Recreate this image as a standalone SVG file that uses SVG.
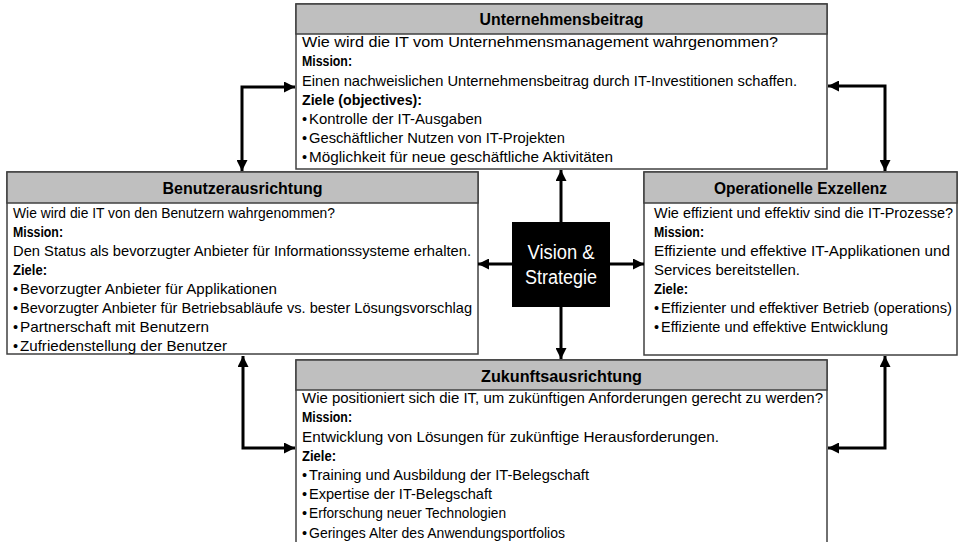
<svg xmlns="http://www.w3.org/2000/svg" width="959" height="542" viewBox="0 0 959 542">
<defs>
<style>
.box{fill:#ffffff;stroke:#404040;stroke-width:1.5}
.hdr{fill:#bfbfbf;stroke:#404040;stroke-width:1.5}
text{font-family:"Liberation Sans",Arial,sans-serif;fill:#000}
.h{font-size:16px;font-weight:bold;text-anchor:middle}
.t{font-size:14.5px}
.b{font-size:14.5px;font-weight:bold}
.c{font-size:20px;fill:#ffffff;text-anchor:middle}
.con{fill:none;stroke:#000;stroke-width:3}
</style>
<marker id="ah" viewBox="0 0 10 10" refX="10" refY="5" markerWidth="11" markerHeight="11" markerUnits="userSpaceOnUse" orient="auto-start-reverse">
<path d="M0,0 L10,5 L0,10 z" fill="#000"/>
</marker>
</defs>
<rect width="959" height="542" fill="#ffffff"/>

<g id="unternehmensbeitrag">
<rect class="box" x="296" y="4" width="531" height="165"/>
<rect class="hdr" x="296" y="4" width="531" height="30"/>
<text class="h" x="561.5" y="25" textLength="164" lengthAdjust="spacingAndGlyphs">Unternehmensbeitrag</text>
<text class="t" x="302" y="47" textLength="476" lengthAdjust="spacingAndGlyphs">Wie wird die IT vom Unternehmensmanagement wahrgenommen?</text>
<text class="b" x="302" y="66" textLength="50" lengthAdjust="spacingAndGlyphs">Mission:</text>
<text class="t" x="302" y="86" textLength="495" lengthAdjust="spacingAndGlyphs">Einen nachweislichen Unternehmensbeitrag durch IT-Investitionen schaffen.</text>
<text class="b" x="302" y="105" textLength="120" lengthAdjust="spacingAndGlyphs">Ziele (objectives):</text>
<text class="t" x="302" y="124">•</text>
<text class="t" x="309" y="124" textLength="173" lengthAdjust="spacingAndGlyphs">Kontrolle der IT-Ausgaben</text>
<text class="t" x="302" y="143">•</text>
<text class="t" x="309" y="143" textLength="256" lengthAdjust="spacingAndGlyphs">Geschäftlicher Nutzen von IT-Projekten</text>
<text class="t" x="302" y="162">•</text>
<text class="t" x="309" y="162" textLength="304" lengthAdjust="spacingAndGlyphs">Möglichkeit für neue geschäftliche Aktivitäten</text>
</g>

<g id="benutzerausrichtung">
<rect class="box" x="7" y="172" width="471" height="182"/>
<rect class="hdr" x="7" y="172" width="471" height="31"/>
<text class="h" x="242.5" y="193.5" textLength="160" lengthAdjust="spacingAndGlyphs">Benutzerausrichtung</text>
<text class="t" x="13" y="218" textLength="322" lengthAdjust="spacingAndGlyphs">Wie wird die IT von den Benutzern wahrgenommen?</text>
<text class="b" x="13" y="237" textLength="50" lengthAdjust="spacingAndGlyphs">Mission:</text>
<text class="t" x="13" y="256" textLength="458" lengthAdjust="spacingAndGlyphs">Den Status als bevorzugter Anbieter für Informationssysteme erhalten.</text>
<text class="b" x="13" y="275" textLength="34" lengthAdjust="spacingAndGlyphs">Ziele:</text>
<text class="t" x="13" y="294">•</text>
<text class="t" x="20" y="294" textLength="257" lengthAdjust="spacingAndGlyphs">Bevorzugter Anbieter für Applikationen</text>
<text class="t" x="13" y="313">•</text>
<text class="t" x="20" y="313" textLength="452" lengthAdjust="spacingAndGlyphs">Bevorzugter Anbieter für Betriebsabläufe vs. bester Lösungsvorschlag</text>
<text class="t" x="13" y="332">•</text>
<text class="t" x="20" y="332" textLength="189" lengthAdjust="spacingAndGlyphs">Partnerschaft mit Benutzern</text>
<text class="t" x="13" y="351">•</text>
<text class="t" x="20" y="351" textLength="207" lengthAdjust="spacingAndGlyphs">Zufriedenstellung der Benutzer</text>
</g>

<g id="operationelle-exzellenz">
<rect class="box" x="644" y="172" width="313" height="183"/>
<rect class="hdr" x="644" y="172" width="313" height="31"/>
<text class="h" x="800.5" y="193.5" textLength="173" lengthAdjust="spacingAndGlyphs">Operationelle Exzellenz</text>
<text class="t" x="654" y="218" textLength="299" lengthAdjust="spacingAndGlyphs">Wie effizient und effektiv sind die IT-Prozesse?</text>
<text class="b" x="654" y="237" textLength="50" lengthAdjust="spacingAndGlyphs">Mission:</text>
<text class="t" x="654" y="256" textLength="296" lengthAdjust="spacingAndGlyphs">Effiziente und effektive IT-Applikationen und</text>
<text class="t" x="654" y="275" textLength="146" lengthAdjust="spacingAndGlyphs">Services bereitstellen.</text>
<text class="b" x="654" y="294" textLength="34" lengthAdjust="spacingAndGlyphs">Ziele:</text>
<text class="t" x="654" y="313">•</text>
<text class="t" x="661" y="313" textLength="291" lengthAdjust="spacingAndGlyphs">Effizienter und effektiver Betrieb (operations)</text>
<text class="t" x="654" y="332">•</text>
<text class="t" x="661" y="332" textLength="227" lengthAdjust="spacingAndGlyphs">Effiziente und effektive Entwicklung</text>
</g>

<g id="zukunftsausrichtung">
<rect class="box" x="296" y="360" width="531" height="200"/>
<rect class="hdr" x="296" y="360" width="531" height="30"/>
<text class="h" x="561.5" y="381.5" textLength="161" lengthAdjust="spacingAndGlyphs">Zukunftsausrichtung</text>
<text class="t" x="302" y="403" textLength="521" lengthAdjust="spacingAndGlyphs">Wie positioniert sich die IT, um zukünftigen Anforderungen gerecht zu werden?</text>
<text class="b" x="302" y="422" textLength="50" lengthAdjust="spacingAndGlyphs">Mission:</text>
<text class="t" x="302" y="442" textLength="417" lengthAdjust="spacingAndGlyphs">Entwicklung von Lösungen für zukünftige Herausforderungen.</text>
<text class="b" x="302" y="461" textLength="34" lengthAdjust="spacingAndGlyphs">Ziele:</text>
<text class="t" x="302" y="480">•</text>
<text class="t" x="309" y="480" textLength="280" lengthAdjust="spacingAndGlyphs">Training und Ausbildung der IT-Belegschaft</text>
<text class="t" x="302" y="499">•</text>
<text class="t" x="309" y="499" textLength="183" lengthAdjust="spacingAndGlyphs">Expertise der IT-Belegschaft</text>
<text class="t" x="302" y="518">•</text>
<text class="t" x="309" y="518" textLength="197" lengthAdjust="spacingAndGlyphs">Erforschung neuer Technologien</text>
<text class="t" x="302" y="538">•</text>
<text class="t" x="309" y="538" textLength="256" lengthAdjust="spacingAndGlyphs">Geringes Alter des Anwendungsportfolios</text>
</g>

<g id="vision-strategie">
<rect x="512" y="222" width="98" height="85" fill="#000000"/>
<text class="c" x="561" y="259" textLength="67" lengthAdjust="spacingAndGlyphs">Vision &amp;</text>
<text class="c" x="561" y="284" textLength="72" lengthAdjust="spacingAndGlyphs">Strategie</text>
</g>

<g id="connectors">
<path class="con" d="M561,222 V170" marker-end="url(#ah)"/>
<path class="con" d="M561,307 V359" marker-end="url(#ah)"/>
<path class="con" d="M512,264 H478" marker-end="url(#ah)"/>
<path class="con" d="M610,264 H644" marker-end="url(#ah)"/>
<path class="con" d="M295,87 H242 V171" marker-start="url(#ah)" marker-end="url(#ah)"/>
<path class="con" d="M828,86 H885 V171" marker-start="url(#ah)" marker-end="url(#ah)"/>
<path class="con" d="M243,356 V448 H295" marker-start="url(#ah)" marker-end="url(#ah)"/>
<path class="con" d="M885,356 V448 H828" marker-start="url(#ah)" marker-end="url(#ah)"/>
</g>
</svg>
